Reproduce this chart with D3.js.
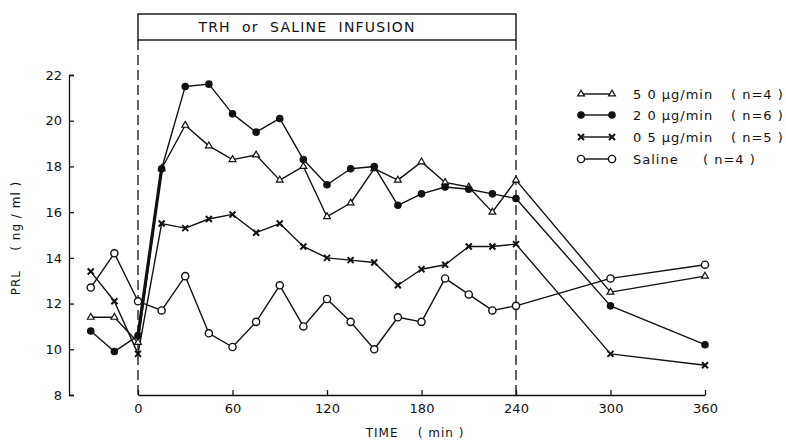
<!DOCTYPE html>
<meta charset="utf-8">
<style>
body { margin: 0; background: #fff; }
text { font-family: "DejaVu Sans", sans-serif; fill: #111; }
.axis path, .axis line { stroke: #111; stroke-width: 1.3px; }
.axis text { font-size: 13px; }
.series { fill: none; stroke: #111; stroke-width: 1.4px; stroke-linejoin: round; }
</style>
<body>
<svg width="786" height="443" id="chart"></svg>
<script src="https://d3js.org/d3.v7.min.js"></script>
<script>

// sampling times (min)
var times = [-30, -15, 0, 15, 30, 45, 60, 75, 90, 105, 120, 135, 150, 165, 180, 195, 210, 225, 240, 300, 360];

// PRL (ng/ml) per group
var trh50 = [11.4, 11.4, 10.3, 17.9, 19.8, 18.9, 18.3, 18.5, 17.4, 18.0, 15.8, 16.4, 17.9, 17.4, 18.2, 17.3, 17.1, 16.0, 17.4, 12.5, 13.2];
var trh20 = [10.8, 9.9, 10.6, 17.9, 21.5, 21.6, 20.3, 19.5, 20.1, 18.3, 17.2, 17.9, 18.0, 16.3, 16.8, 17.1, 17.0, 16.8, 16.6, 11.9, 10.2];
var trh05 = [13.4, 12.1, 9.8, 15.5, 15.3, 15.7, 15.9, 15.1, 15.5, 14.5, 14.0, 13.9, 13.8, 12.8, 13.5, 13.7, 14.5, 14.5, 14.6, 9.8, 9.3];
var saline = [12.7, 14.2, 12.1, 11.7, 13.2, 10.7, 10.1, 11.2, 12.8, 11.0, 12.2, 11.2, 10.0, 11.4, 11.2, 13.1, 12.4, 11.7, 11.9, 13.1, 13.7];

var xTicks = [0, 60, 120, 180, 240, 300, 360];
var yTicks = [8, 10, 12, 14, 16, 18, 20, 22];
var doses = ["5 0 \u00b5g/min", "2 0 \u00b5g/min", "0 5 \u00b5g/min", "Saline"];
var counts = ["( n=4 )", "( n=6 )", "( n=5 )", "( n=4 )"];
var infusion = [0, 240];

var svg = d3.select("#chart");

var x = d3.scaleLinear().domain([0, 360]).range([138, 705]);
var y = d3.scaleLinear().domain([8, 22]).range([395, 75]);

var series = [
  { name: doses[0], n: counts[0], values: trh50, marker: "tri" },
  { name: doses[1], n: counts[1], values: trh20, marker: "dot" },
  { name: doses[2], n: counts[2], values: trh05, marker: "cross" },
  { name: doses[3], n: counts[3], values: saline, marker: "ring" }
];

// y axis, ticks pointing inwards
var yAxis = d3.axisLeft(y).tickValues(yTicks).tickSizeInner(-5).tickSizeOuter(-5).tickPadding(7);
svg.append("g")
    .attr("class", "axis")
    .attr("transform", "translate(69,0)")
    .call(yAxis);

// x axis starts at time 0
var xAxis = d3.axisBottom(x).tickValues(xTicks).tickSizeInner(-5).tickSizeOuter(0).tickPadding(9);
svg.append("g")
    .attr("class", "axis")
    .attr("transform", "translate(0,395)")
    .call(xAxis);

// infusion box and dashed boundaries
svg.append("rect")
    .attr("x", x(infusion[0]))
    .attr("y", 14)
    .attr("width", x(infusion[1]) - x(infusion[0]))
    .attr("height", 26)
    .attr("fill", "none")
    .attr("stroke", "#111")
    .attr("stroke-width", 1.4);

svg.append("text")
    .attr("x", (x(infusion[0]) + x(infusion[1])) / 2 - 20)
    .attr("y", 32)
    .attr("text-anchor", "middle")
    .attr("font-size", 14)
    .attr("letter-spacing", 1.2)
    .attr("xml:space", "preserve")
    .text("TRH  or  SALINE  INFUSION");

svg.selectAll(".bound")
    .data(infusion)
  .enter().append("line")
    .attr("class", "bound")
    .attr("x1", function(d) { return x(d); })
    .attr("x2", function(d) { return x(d); })
    .attr("y1", 40)
    .attr("y2", 395)
    .attr("stroke", "#111")
    .attr("stroke-width", 1.3)
    .attr("stroke-dasharray", "10,5");

// lines
var line = d3.line()
    .x(function(d, i) { return x(times[i]); })
    .y(function(d) { return y(d); });

svg.selectAll(".series")
    .data(series)
  .enter().append("path")
    .attr("class", "series")
    .attr("d", function(d) { return line(d.values); });

// the steep rise after start of infusion is drawn heavy in the original
svg.append("path")
    .attr("fill", "none")
    .attr("stroke", "#111")
    .attr("stroke-width", 3.2)
    .attr("d", d3.line()
      .x(function(d) { return x(d[0]); })
      .y(function(d) { return y(d[1]); })([[times[2], trh20[2]], [times[3], trh20[3]]]));

function drawMarker(g, kind) {
  if (kind === "dot") {
    g.append("circle").attr("r", 3.8).attr("fill", "#111");
  } else if (kind === "ring") {
    g.append("circle").attr("r", 3.6).attr("fill", "#fff").attr("stroke", "#111").attr("stroke-width", 1.4);
  } else if (kind === "tri") {
    g.append("path").attr("d", d3.symbol().type(d3.symbolTriangle).size(20)())
      .attr("fill", "#fff").attr("stroke", "#111").attr("stroke-width", 1.2);
  } else {
    g.append("path").attr("d", "M-3,-3L3,3M-3,3L3,-3")
      .attr("stroke", "#111").attr("stroke-width", 2);
  }
}

series.forEach(function(s) {
  s.values.forEach(function(v, i) {
    var g = svg.append("g").attr("transform", "translate(" + x(times[i]) + "," + y(v) + ")");
    drawMarker(g, s.marker);
  });
});

// legend
var legendY = [94, 115, 137, 159];
series.forEach(function(s, i) {
  var g = svg.append("g").attr("transform", "translate(0," + legendY[i] + ")");
  g.append("line").attr("x1", 581).attr("x2", 612).attr("y1", 0).attr("y2", 0)
    .attr("stroke", "#111").attr("stroke-width", 1.4);
  [581, 612].forEach(function(px) {
    drawMarker(g.append("g").attr("transform", "translate(" + px + ",0)"), s.marker);
  });
  g.append("text").attr("x", 633).attr("y", 5).attr("font-size", 13)
    .attr("letter-spacing", 1).text(s.name);
  g.append("text").attr("x", i === 3 ? 703 : 731).attr("y", 5).attr("font-size", 13)
    .attr("letter-spacing", 1).attr("xml:space", "preserve").text(s.n);
});

// axis titles
svg.append("text")
    .attr("transform", "translate(20,238) rotate(-90)")
    .attr("text-anchor", "middle")
    .attr("font-size", 12)
    .attr("letter-spacing", 1)
    .attr("xml:space", "preserve")
    .text("PRL    ( ng / ml )");

svg.append("text")
    .attr("x", 415)
    .attr("y", 437)
    .attr("text-anchor", "middle")
    .attr("font-size", 12)
    .attr("letter-spacing", 1)
    .attr("xml:space", "preserve")
    .text("TIME    ( min )");

</script>
</body>
